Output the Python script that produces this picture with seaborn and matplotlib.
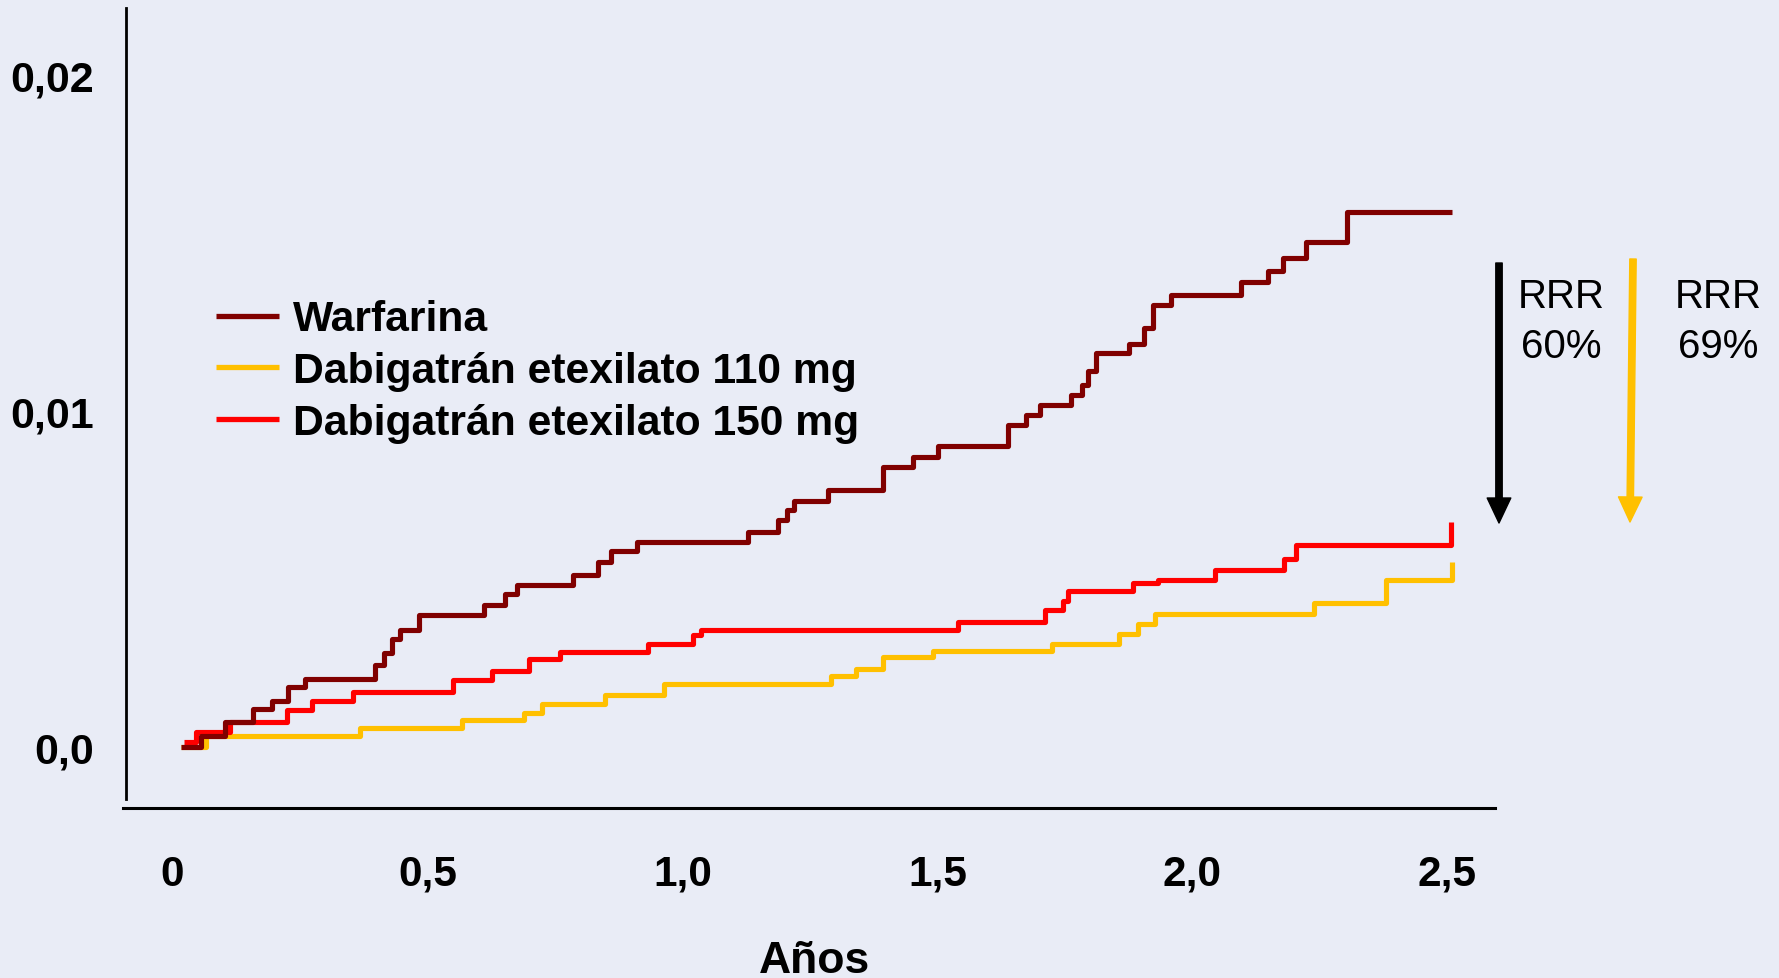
import numpy as np
import pandas as pd
import matplotlib
matplotlib.use("Agg")
import matplotlib.pyplot as plt
from matplotlib.transforms import ScaledTranslation
import seaborn as sns

# ---------------- data ----------------
series_names = ["Warfarina", "Dabigatrán etexilato 110 mg", "Dabigatrán etexilato 150 mg"]
series_colors = ["#800000", "#FFC000", "#FF0000"]

warf_t = [0.0, 0.039, 0.086, 0.142, 0.178, 0.209, 0.243, 0.380, 0.398, 0.414, 0.429,
          0.466, 0.595, 0.635, 0.658, 0.768, 0.818, 0.843, 0.895, 1.111, 1.171, 1.188,
          1.202, 1.269, 1.377, 1.436, 1.485, 1.621, 1.656, 1.684, 1.745, 1.766, 1.779,
          1.795, 1.859, 1.888, 1.905, 1.941, 2.078, 2.131, 2.161, 2.206, 2.286, 2.492]
warf_v = [0.0, 0.00034, 0.00074, 0.00112, 0.00138, 0.00178, 0.00202, 0.00244, 0.00280,
          0.00322, 0.00348, 0.00394, 0.00424, 0.00454, 0.00483, 0.00513, 0.00552,
          0.00582, 0.00610, 0.00639, 0.00675, 0.00705, 0.00733, 0.00765, 0.00832,
          0.00863, 0.00897, 0.00958, 0.00988, 0.01018, 0.01049, 0.01078, 0.01119,
          0.01173, 0.01200, 0.01246, 0.01315, 0.01346, 0.01385, 0.01418, 0.01456,
          0.01504, 0.01591, 0.01591]

d110_t = [0.0, 0.050, 0.351, 0.550, 0.673, 0.707, 0.831, 0.948, 1.275, 1.324, 1.376,
          1.474, 1.707, 1.839, 1.877, 1.910, 2.222, 2.362, 2.492]
d110_v = [0.0, 0.00034, 0.00056, 0.00079, 0.00102, 0.00128, 0.00155, 0.00188, 0.00210,
          0.00232, 0.00269, 0.00287, 0.00307, 0.00337, 0.00366, 0.00397, 0.00429,
          0.00498, 0.00550]

d150_t = [0.005, 0.029, 0.096, 0.207, 0.256, 0.338, 0.533, 0.609, 0.683, 0.743, 0.916,
          1.004, 1.020, 1.524, 1.694, 1.730, 1.740, 1.866, 1.916, 2.027, 2.163, 2.186,
          2.490]
d150_v = [0.00016, 0.00044, 0.00074, 0.00109, 0.00138, 0.00163, 0.00198, 0.00227,
          0.00262, 0.00282, 0.00307, 0.00333, 0.00349, 0.00373, 0.00408, 0.00436,
          0.00463, 0.00488, 0.00496, 0.00528, 0.00561, 0.00601, 0.00671]

x_ticks = [0, 0.5, 1.0, 1.5, 2.0, 2.5]
x_ticklabels = ["0", "0,5", "1,0", "1,5", "2,0", "2,5"]
y_ticks = [0.0, 0.01, 0.02]
y_ticklabels = ["0,0", "0,01", "0,02"]
rrr_labels = [("RRR", "60%"), ("RRR", "69%")]
arrow_colors = ["#000000", "#FFC000"]

df = pd.concat([
    pd.DataFrame({"t": warf_t, "v": warf_v, "grupo": series_names[0]}),
    pd.DataFrame({"t": d110_t, "v": d110_v, "grupo": series_names[1]}),
    pd.DataFrame({"t": d150_t, "v": d150_v, "grupo": series_names[2]}),
], ignore_index=True)

# ---------------- style ----------------
BG = "#E9ECF6"
sns.set_theme(style="white")
plt.rcParams["font.family"] = ["Liberation Sans", "DejaVu Sans"]
plt.rcParams["font.weight"] = "bold"
plt.rcParams["figure.facecolor"] = BG
plt.rcParams["axes.facecolor"] = BG
for key in ["text.color", "axes.labelcolor", "xtick.labelcolor", "ytick.labelcolor"]:
    plt.rcParams[key] = "black"

W, H = 1779, 979
fig = plt.figure(figsize=(W / 100, H / 100), dpi=100)
# axes box in pixels: left 123, right 1495, top 9, bottom 800
ax = fig.add_axes([123 / W, (H - 800) / H, (1495 - 123) / W, (800 - 9) / H])

sns.lineplot(data=df, x="t", y="v", hue="grupo", hue_order=series_names,
             palette=series_colors, estimator=None, sort=False,
             drawstyle="steps-post", linewidth=3.7, ax=ax, legend=False)

for line, z in zip(ax.lines, [3.0, 2.1, 2.2]):
    line.set_zorder(z)
    line.set_solid_capstyle("butt")

# scales: x0 px=181 at 0 years, 510 px/year ; y0 px=748 at 0, 33600 px per unit
ax.set_xlim((123 - 181) / 510, (1495 - 181) / 510)
ax.set_ylim((748 - 800) / 33600, (748 - 9) / 33600)

for s in ["top", "right"]:
    ax.spines[s].set_visible(False)
ax.spines["left"].set_color("black")
ax.spines["left"].set_linewidth(2.0)
ax.spines["left"].set_position(("outward", -2.2))
ax.spines["bottom"].set_color("black")
ax.spines["bottom"].set_linewidth(2.2)
ax.spines["bottom"].set_position(("outward", 6.5))

ax.set_xticks(x_ticks)
ax.set_xticklabels(x_ticklabels)
ax.set_yticks(y_ticks)
ax.set_yticklabels(y_ticklabels)

ax.tick_params(axis="x", direction="out", length=17, width=1.6, color="white", pad=16,
               labelsize=30.5, labelcolor="black")
ax.tick_params(axis="y", direction="out", length=12, width=1.6, color="white", pad=11,
               labelsize=31, labelcolor="black")

# the reference's year labels sit slightly left of their ticks
shift = ScaledTranslation(-0.085, 0, fig.dpi_scale_trans)
for tk in ax.xaxis.get_major_ticks():
    tk.label1.set_transform(tk.label1.get_transform() + shift)

ax.set_xlabel("Años", fontsize=32, fontweight="bold", color="black")
ax.set_ylabel("")
ax.xaxis.label.set_va("baseline")
ax.xaxis.set_label_coords((815 - 123) / (1495 - 123), ((H - 973) - (H - 800)) / (800 - 9))

# legend
handles = ax.lines[:3]
leg = ax.legend(handles, series_names, loc="center left",
                bbox_to_anchor=(215.6 / W, 1 - 372 / H), bbox_transform=fig.transFigure,
                frameon=False, prop={"weight": "bold", "size": 30.7},
                handlelength=1.49, handletextpad=0.32, labelspacing=0.27,
                borderpad=0, borderaxespad=0, labelcolor="black")
for lh in leg.get_lines():
    lh.set_linewidth(3.8)

# RRR arrows (data coordinates, outside the plotting range)
def px2data(px, py):
    return (px - 181) / 510, (748 - py) / 33600

arrow_px = [((1499, 264), (1499, 524)), ((1633, 260), (1630, 523))]
for (start, end), col in zip(arrow_px, arrow_colors):
    ax.annotate("", xy=px2data(*end), xytext=px2data(*start), xycoords="data",
                annotation_clip=False,
                arrowprops=dict(facecolor=col, edgecolor=col, width=4.6,
                                headwidth=17, headlength=18, shrink=0))

text_centers = [1561, 1718]
for cx, (l1, l2) in zip(text_centers, rrr_labels):
    fig.text(cx / W, 1 - 308 / H, l1, ha="center", va="baseline", fontsize=29,
             fontweight="normal", color="black")
    fig.text(cx / W, 1 - 358 / H, l2, ha="center", va="baseline", fontsize=29,
             fontweight="normal", color="black")

fig.savefig("out.png", dpi=100, facecolor=BG)
